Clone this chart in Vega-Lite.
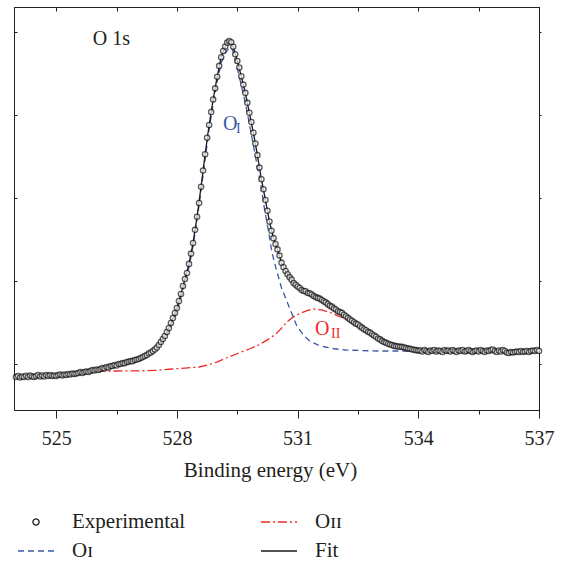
{
  "$schema": "https://vega.github.io/schema/vega-lite/v6.json",
  "width": 525,
  "height": 403,
  "autosize": "none",
  "padding": {"left": 14, "top": 7, "right": 26, "bottom": 153},
  "background": "white",
  "config": {
    "view": {"stroke": "#231f20", "strokeWidth": 1},
    "font": "Liberation Serif, serif",
    "axis": {
      "domainColor": "#231f20", "tickColor": "#231f20", "labelColor": "#231f20", "titleColor": "#231f20",
      "grid": false, "labelFont": "Liberation Serif, serif", "titleFont": "Liberation Serif, serif",
      "labelFontSize": 20, "titleFontSize": 21, "titleFontWeight": "normal",
      "domainWidth": 1, "tickWidth": 1, "labelFlush": false, "labelOverlap": false
    },
    "legend": {"labelFont": "Liberation Serif, serif"}
  },
  "resolve": {"axis": {"x": "independent", "y": "independent"}},
  "datasets": {
    "exp": [
      {"E":524.00,"I":0.398},{"E":524.05,"I":0.410},{"E":524.10,"I":0.392},{"E":524.15,"I":0.404},{"E":524.20,"I":0.398},
      {"E":524.25,"I":0.412},{"E":524.30,"I":0.398},{"E":524.35,"I":0.416},{"E":524.40,"I":0.404},{"E":524.45,"I":0.398},
      {"E":524.50,"I":0.410},{"E":524.55,"I":0.422},{"E":524.60,"I":0.404},{"E":524.65,"I":0.416},{"E":524.70,"I":0.404},
      {"E":524.75,"I":0.422},{"E":524.80,"I":0.410},{"E":524.85,"I":0.422},{"E":524.90,"I":0.410},{"E":524.95,"I":0.416},
      {"E":525.00,"I":0.410},{"E":525.05,"I":0.422},{"E":525.10,"I":0.428},{"E":525.15,"I":0.416},{"E":525.20,"I":0.428},
      {"E":525.25,"I":0.422},{"E":525.30,"I":0.434},{"E":525.35,"I":0.428},{"E":525.40,"I":0.440},{"E":525.45,"I":0.434},
      {"E":525.50,"I":0.440},{"E":525.55,"I":0.446},{"E":525.60,"I":0.458},{"E":525.65,"I":0.446},{"E":525.70,"I":0.458},
      {"E":525.75,"I":0.464},{"E":525.80,"I":0.458},{"E":525.85,"I":0.470},{"E":525.90,"I":0.482},{"E":525.95,"I":0.476},
      {"E":526.00,"I":0.488},{"E":526.05,"I":0.482},{"E":526.10,"I":0.494},{"E":526.15,"I":0.506},{"E":526.20,"I":0.500},
      {"E":526.25,"I":0.518},{"E":526.30,"I":0.512},{"E":526.35,"I":0.530},{"E":526.40,"I":0.530},{"E":526.45,"I":0.542},
      {"E":526.50,"I":0.536},{"E":526.55,"I":0.554},{"E":526.60,"I":0.554},{"E":526.65,"I":0.566},{"E":526.70,"I":0.562},
      {"E":526.75,"I":0.578},{"E":526.80,"I":0.580},{"E":526.85,"I":0.590},{"E":526.90,"I":0.588},{"E":526.95,"I":0.602},
      {"E":527.00,"I":0.608},{"E":527.05,"I":0.614},{"E":527.10,"I":0.627},{"E":527.15,"I":0.639},{"E":527.20,"I":0.651},
      {"E":527.25,"I":0.663},{"E":527.30,"I":0.681},{"E":527.35,"I":0.693},{"E":527.40,"I":0.711},{"E":527.45,"I":0.729},
      {"E":527.50,"I":0.753},{"E":527.55,"I":0.783},{"E":527.60,"I":0.819},{"E":527.65,"I":0.855},{"E":527.70,"I":0.892},
      {"E":527.75,"I":0.940},{"E":527.80,"I":0.988},{"E":527.85,"I":1.048},{"E":527.90,"I":1.108},{"E":527.95,"I":1.169},
      {"E":528.00,"I":1.229},{"E":528.05,"I":1.313},{"E":528.10,"I":1.398},{"E":528.15,"I":1.494},{"E":528.20,"I":1.578},
      {"E":528.25,"I":1.651},{"E":528.30,"I":1.760},{"E":528.35,"I":1.884},{"E":528.40,"I":2.012},{"E":528.45,"I":2.170},
      {"E":528.50,"I":2.328},{"E":528.55,"I":2.494},{"E":528.60,"I":2.690},{"E":528.65,"I":2.885},{"E":528.70,"I":3.080},
      {"E":528.75,"I":3.280},{"E":528.80,"I":3.434},{"E":528.85,"I":3.590},{"E":528.90,"I":3.740},{"E":528.95,"I":3.875},
      {"E":529.00,"I":4.015},{"E":529.05,"I":4.145},{"E":529.10,"I":4.250},{"E":529.15,"I":4.325},{"E":529.20,"I":4.378},
      {"E":529.25,"I":4.425},{"E":529.30,"I":4.444},{"E":529.35,"I":4.430},{"E":529.40,"I":4.375},{"E":529.45,"I":4.285},
      {"E":529.50,"I":4.205},{"E":529.55,"I":4.125},{"E":529.60,"I":4.020},{"E":529.65,"I":3.920},{"E":529.70,"I":3.820},
      {"E":529.75,"I":3.700},{"E":529.80,"I":3.580},{"E":529.85,"I":3.470},{"E":529.90,"I":3.340},{"E":529.95,"I":3.210},
      {"E":530.00,"I":3.070},{"E":530.05,"I":2.920},{"E":530.10,"I":2.780},{"E":530.15,"I":2.660},{"E":530.20,"I":2.530},
      {"E":530.25,"I":2.400},{"E":530.30,"I":2.270},{"E":530.35,"I":2.160},{"E":530.40,"I":2.070},{"E":530.45,"I":2.000},
      {"E":530.50,"I":1.935},{"E":530.55,"I":1.860},{"E":530.60,"I":1.775},{"E":530.65,"I":1.720},{"E":530.70,"I":1.675},
      {"E":530.75,"I":1.635},{"E":530.80,"I":1.600},{"E":530.85,"I":1.570},{"E":530.90,"I":1.530},{"E":530.95,"I":1.508},
      {"E":531.00,"I":1.488},{"E":531.05,"I":1.470},{"E":531.10,"I":1.446},{"E":531.15,"I":1.434},{"E":531.20,"I":1.430},
      {"E":531.25,"I":1.410},{"E":531.30,"I":1.405},{"E":531.35,"I":1.392},{"E":531.40,"I":1.374},{"E":531.45,"I":1.360},
      {"E":531.50,"I":1.350},{"E":531.55,"I":1.342},{"E":531.60,"I":1.325},{"E":531.65,"I":1.310},{"E":531.70,"I":1.296},
      {"E":531.75,"I":1.275},{"E":531.80,"I":1.255},{"E":531.85,"I":1.245},{"E":531.90,"I":1.224},{"E":531.95,"I":1.210},
      {"E":532.00,"I":1.190},{"E":532.05,"I":1.180},{"E":532.10,"I":1.170},{"E":532.15,"I":1.148},{"E":532.20,"I":1.130},
      {"E":532.25,"I":1.110},{"E":532.30,"I":1.090},{"E":532.35,"I":1.075},{"E":532.40,"I":1.057},{"E":532.45,"I":1.040},
      {"E":532.50,"I":1.030},{"E":532.55,"I":1.008},{"E":532.60,"I":0.992},{"E":532.65,"I":0.972},{"E":532.70,"I":0.960},
      {"E":532.75,"I":0.943},{"E":532.80,"I":0.932},{"E":532.85,"I":0.913},{"E":532.90,"I":0.898},{"E":532.95,"I":0.883},
      {"E":533.00,"I":0.862},{"E":533.05,"I":0.850},{"E":533.10,"I":0.832},{"E":533.15,"I":0.818},{"E":533.20,"I":0.810},
      {"E":533.25,"I":0.797},{"E":533.30,"I":0.789},{"E":533.35,"I":0.782},{"E":533.40,"I":0.772},{"E":533.45,"I":0.769},
      {"E":533.50,"I":0.765},{"E":533.55,"I":0.761},{"E":533.60,"I":0.760},{"E":533.65,"I":0.752},{"E":533.70,"I":0.746},
      {"E":533.75,"I":0.739},{"E":533.80,"I":0.738},{"E":533.85,"I":0.729},{"E":533.90,"I":0.725},{"E":533.95,"I":0.721},
      {"E":534.00,"I":0.716},{"E":534.05,"I":0.717},{"E":534.10,"I":0.705},{"E":534.15,"I":0.723},{"E":534.20,"I":0.711},
      {"E":534.25,"I":0.699},{"E":534.30,"I":0.717},{"E":534.35,"I":0.711},{"E":534.40,"I":0.723},{"E":534.45,"I":0.705},
      {"E":534.50,"I":0.717},{"E":534.55,"I":0.711},{"E":534.60,"I":0.699},{"E":534.65,"I":0.723},{"E":534.70,"I":0.711},
      {"E":534.75,"I":0.717},{"E":534.80,"I":0.705},{"E":534.85,"I":0.723},{"E":534.90,"I":0.711},{"E":534.95,"I":0.699},
      {"E":535.00,"I":0.717},{"E":535.05,"I":0.711},{"E":535.10,"I":0.723},{"E":535.15,"I":0.705},{"E":535.20,"I":0.711},
      {"E":535.25,"I":0.723},{"E":535.30,"I":0.711},{"E":535.35,"I":0.699},{"E":535.40,"I":0.711},{"E":535.45,"I":0.717},
      {"E":535.50,"I":0.705},{"E":535.55,"I":0.723},{"E":535.60,"I":0.711},{"E":535.65,"I":0.699},{"E":535.70,"I":0.717},
      {"E":535.75,"I":0.711},{"E":535.80,"I":0.723},{"E":535.85,"I":0.729},{"E":535.90,"I":0.711},{"E":535.95,"I":0.699},
      {"E":536.00,"I":0.717},{"E":536.05,"I":0.705},{"E":536.10,"I":0.723},{"E":536.15,"I":0.711},{"E":536.20,"I":0.693},
      {"E":536.25,"I":0.687},{"E":536.30,"I":0.699},{"E":536.35,"I":0.693},{"E":536.40,"I":0.699},{"E":536.45,"I":0.705},
      {"E":536.50,"I":0.699},{"E":536.55,"I":0.711},{"E":536.60,"I":0.699},{"E":536.65,"I":0.705},{"E":536.70,"I":0.711},
      {"E":536.75,"I":0.699},{"E":536.80,"I":0.711},{"E":536.85,"I":0.717},{"E":536.90,"I":0.711},{"E":536.95,"I":0.723},
      {"E":537.00,"I":0.711}
    ],
    "comp": [
      {"s":"O_II","E":526.0,"I":0.470},{"s":"O_II","E":526.5,"I":0.470},{"s":"O_II","E":527.0,"I":0.471},{"s":"O_II","E":527.5,"I":0.478},
      {"s":"O_II","E":527.88,"I":0.494},{"s":"O_II","E":528.2,"I":0.505},{"s":"O_II","E":528.55,"I":0.518},{"s":"O_II","E":528.8,"I":0.545},
      {"s":"O_II","E":528.99,"I":0.578},{"s":"O_II","E":529.2,"I":0.620},{"s":"O_II","E":529.54,"I":0.687},{"s":"O_II","E":529.8,"I":0.735},
      {"s":"O_II","E":530.03,"I":0.783},{"s":"O_II","E":530.25,"I":0.845},{"s":"O_II","E":530.46,"I":0.916},{"s":"O_II","E":530.6,"I":0.985},
      {"s":"O_II","E":530.73,"I":1.060},{"s":"O_II","E":530.9,"I":1.125},{"s":"O_II","E":531.08,"I":1.169},{"s":"O_II","E":531.25,"I":1.200},
      {"s":"O_II","E":531.4,"I":1.217},{"s":"O_II","E":531.6,"I":1.205},{"s":"O_II","E":531.84,"I":1.169},{"s":"O_II","E":532.0,"I":1.135},
      {"s":"O_II","E":532.19,"I":1.094},{"s":"O_II","E":532.35,"I":1.050},{"s":"O_II","E":532.5,"I":1.005},{"s":"O_II","E":532.65,"I":0.962},
      {"s":"O_II","E":532.84,"I":0.905},{"s":"O_II","E":533.0,"I":0.858},{"s":"O_II","E":533.2,"I":0.805},{"s":"O_II","E":533.4,"I":0.772},
      {"s":"O_II","E":533.6,"I":0.750},{"s":"O_II","E":533.8,"I":0.730},{"s":"O_II","E":534.0,"I":0.716},{"s":"O_II","E":534.2,"I":0.711},
      {"s":"O_II","E":534.42,"I":0.711},
      {"s":"O_I","E":526.0,"I":0.485},{"s":"O_I","E":526.2,"I":0.500},{"s":"O_I","E":526.4,"I":0.524},{"s":"O_I","E":526.6,"I":0.546},
      {"s":"O_I","E":526.8,"I":0.568},{"s":"O_I","E":527.0,"I":0.594},{"s":"O_I","E":527.2,"I":0.636},{"s":"O_I","E":527.4,"I":0.694},
      {"s":"O_I","E":527.6,"I":0.799},{"s":"O_I","E":527.8,"I":0.962},{"s":"O_I","E":528.0,"I":1.195},{"s":"O_I","E":528.1,"I":1.360},
      {"s":"O_I","E":528.2,"I":1.540},{"s":"O_I","E":528.3,"I":1.720},{"s":"O_I","E":528.4,"I":1.970},{"s":"O_I","E":528.5,"I":2.290},
      {"s":"O_I","E":528.6,"I":2.640},{"s":"O_I","E":528.7,"I":3.020},{"s":"O_I","E":528.8,"I":3.380},{"s":"O_I","E":528.9,"I":3.680},
      {"s":"O_I","E":529.0,"I":3.950},{"s":"O_I","E":529.1,"I":4.180},{"s":"O_I","E":529.2,"I":4.300},{"s":"O_I","E":529.3,"I":4.360},
      {"s":"O_I","E":529.35,"I":4.365},{"s":"O_I","E":529.4,"I":4.320},{"s":"O_I","E":529.5,"I":4.120},{"s":"O_I","E":529.6,"I":3.910},
      {"s":"O_I","E":529.7,"I":3.700},{"s":"O_I","E":529.8,"I":3.450},{"s":"O_I","E":529.9,"I":3.190},{"s":"O_I","E":530.0,"I":2.930},
      {"s":"O_I","E":530.08,"I":2.735},{"s":"O_I","E":530.18,"I":2.410},{"s":"O_I","E":530.28,"I":2.145},{"s":"O_I","E":530.36,"I":1.904},
      {"s":"O_I","E":530.46,"I":1.711},{"s":"O_I","E":530.6,"I":1.470},{"s":"O_I","E":530.78,"I":1.253},{"s":"O_I","E":530.98,"I":1.012},
      {"s":"O_I","E":531.15,"I":0.900},{"s":"O_I","E":531.3,"I":0.831},{"s":"O_I","E":531.5,"I":0.785},{"s":"O_I","E":531.69,"I":0.759},
      {"s":"O_I","E":531.9,"I":0.738},{"s":"O_I","E":532.19,"I":0.723},{"s":"O_I","E":532.6,"I":0.716},{"s":"O_I","E":533.0,"I":0.711},
      {"s":"O_I","E":533.8,"I":0.711},{"s":"O_I","E":534.42,"I":0.711},
      {"s":"Fit","E":526.0,"I":0.486},{"s":"Fit","E":526.1,"I":0.494},{"s":"Fit","E":526.2,"I":0.503},{"s":"Fit","E":526.3,"I":0.514},
      {"s":"Fit","E":526.4,"I":0.527},{"s":"Fit","E":526.5,"I":0.540},{"s":"Fit","E":526.6,"I":0.553},{"s":"Fit","E":526.7,"I":0.566},
      {"s":"Fit","E":526.8,"I":0.579},{"s":"Fit","E":526.9,"I":0.592},{"s":"Fit","E":527.0,"I":0.607},{"s":"Fit","E":527.1,"I":0.627},
      {"s":"Fit","E":527.2,"I":0.651},{"s":"Fit","E":527.3,"I":0.681},{"s":"Fit","E":527.4,"I":0.711},{"s":"Fit","E":527.5,"I":0.753},
      {"s":"Fit","E":527.6,"I":0.819},{"s":"Fit","E":527.7,"I":0.892},{"s":"Fit","E":527.8,"I":0.988},{"s":"Fit","E":527.9,"I":1.108},
      {"s":"Fit","E":528.0,"I":1.229},{"s":"Fit","E":528.1,"I":1.398},{"s":"Fit","E":528.2,"I":1.578},{"s":"Fit","E":528.3,"I":1.760},
      {"s":"Fit","E":528.4,"I":2.012},{"s":"Fit","E":528.5,"I":2.328},{"s":"Fit","E":528.6,"I":2.690},{"s":"Fit","E":528.7,"I":3.080},
      {"s":"Fit","E":528.8,"I":3.434},{"s":"Fit","E":528.9,"I":3.740},{"s":"Fit","E":529.0,"I":4.015},{"s":"Fit","E":529.1,"I":4.250},
      {"s":"Fit","E":529.2,"I":4.378},{"s":"Fit","E":529.25,"I":4.425},{"s":"Fit","E":529.3,"I":4.444},{"s":"Fit","E":529.35,"I":4.430},
      {"s":"Fit","E":529.4,"I":4.375},{"s":"Fit","E":529.5,"I":4.205},{"s":"Fit","E":529.6,"I":4.020},{"s":"Fit","E":529.7,"I":3.820},
      {"s":"Fit","E":529.8,"I":3.580},{"s":"Fit","E":529.9,"I":3.340},{"s":"Fit","E":530.0,"I":3.070},{"s":"Fit","E":530.1,"I":2.780},
      {"s":"Fit","E":530.2,"I":2.530},{"s":"Fit","E":530.3,"I":2.270},{"s":"Fit","E":530.4,"I":2.070},{"s":"Fit","E":530.5,"I":1.935},
      {"s":"Fit","E":530.6,"I":1.775},{"s":"Fit","E":530.7,"I":1.675},{"s":"Fit","E":530.8,"I":1.600},{"s":"Fit","E":530.9,"I":1.530},
      {"s":"Fit","E":531.0,"I":1.488},{"s":"Fit","E":531.1,"I":1.446},{"s":"Fit","E":531.2,"I":1.422},{"s":"Fit","E":531.3,"I":1.398},
      {"s":"Fit","E":531.4,"I":1.374},{"s":"Fit","E":531.5,"I":1.350},{"s":"Fit","E":531.6,"I":1.325},{"s":"Fit","E":531.7,"I":1.293},
      {"s":"Fit","E":531.8,"I":1.255},{"s":"Fit","E":531.9,"I":1.224},{"s":"Fit","E":532.0,"I":1.194},{"s":"Fit","E":532.1,"I":1.165},
      {"s":"Fit","E":532.2,"I":1.130},{"s":"Fit","E":532.3,"I":1.093},{"s":"Fit","E":532.4,"I":1.057},{"s":"Fit","E":532.5,"I":1.024},
      {"s":"Fit","E":532.6,"I":0.992},{"s":"Fit","E":532.7,"I":0.960},{"s":"Fit","E":532.8,"I":0.928},{"s":"Fit","E":532.9,"I":0.898},
      {"s":"Fit","E":533.0,"I":0.866},{"s":"Fit","E":533.1,"I":0.832},{"s":"Fit","E":533.2,"I":0.806},{"s":"Fit","E":533.3,"I":0.789},
      {"s":"Fit","E":533.4,"I":0.775},{"s":"Fit","E":533.5,"I":0.765},{"s":"Fit","E":533.6,"I":0.757},{"s":"Fit","E":533.7,"I":0.746},
      {"s":"Fit","E":533.8,"I":0.734},{"s":"Fit","E":533.9,"I":0.725},{"s":"Fit","E":534.0,"I":0.716},{"s":"Fit","E":534.2,"I":0.711},
      {"s":"Fit","E":534.4,"I":0.711}
    ]
  },
  "layer": [
    {
      "data": {"name": "comp"},
      "mark": {"type": "line", "strokeWidth": 1.3},
      "encoding": {
        "x": {"field": "E", "type": "quantitative", "scale": {"domain": [523.95, 537], "nice": false, "zero": false},
          "axis": {"orient": "bottom", "values": [525, 528, 531, 534, 537], "tickSize": 8, "labelPadding": 10, "format": "d",
            "labelFont": "Liberation Serif, serif", "titleFont": "Liberation Serif, serif",
            "title": "Binding energy (eV)", "titlePadding": 11, "titleX": 256}},
        "y": {"field": "I", "type": "quantitative", "scale": {"domain": [0, 4.855], "nice": false, "zero": false},
          "axis": {"orient": "left", "values": [0.55, 1.55, 2.55, 3.55, 4.55], "tickSize": -3, "labels": false, "title": null}},
        "stroke": {"field": "s", "type": "nominal",
          "scale": {"domain": ["Experimental", "O_I", "O_II", "Fit"], "range": ["#1a1a1a", "#3b5ba8", "#ee2b2b", "#1a1a1a"]},
          "legend": {
            "orient": "none", "legendX": 3, "legendY": 496, "columns": 2, "title": null, "padding": 0,
            "labelFont": "Liberation Serif, serif", "labelFontSize": 21, "labelColor": "#231f20",
            "symbolSize": 1296, "symbolStrokeWidth": 1.3, "labelOffset": 17, "columnPadding": 72, "rowPadding": -8,
            "labelExpr": "datum.value === 'O_I' ? 'O\u026a' : datum.value === 'O_II' ? 'O\u026a\u026a' : datum.value",
            "encode": {
              "symbols": {
                "update": {
                  "shape": {"signal": "datum.value === 'Experimental' ? 'M-0.17,0A0.17,0.17 0 1,1 0.17,0A0.17,0.17 0 1,1 -0.17,0Z' : 'stroke'"},
                  "strokeDash": {"signal": "datum.value === 'O_I' ? [6,4] : datum.value === 'O_II' ? [9,3,2,3] : [1,0]"},
                  "fill": {"value": "white"}
                }
              }
            }
          }
        },
        "strokeDash": {"field": "s", "type": "nominal",
          "scale": {"domain": ["Experimental", "O_I", "O_II", "Fit"], "range": [[1, 0], [6, 4], [9, 3, 2, 3], [1, 0]]},
          "legend": null}
      }
    },
    {
      "data": {"name": "exp"},
      "mark": {"type": "point", "shape": "circle", "filled": true, "fill": "white", "size": 28, "strokeWidth": 1.35},
      "encoding": {
        "x": {"field": "E", "type": "quantitative", "scale": {"domain": [523.95, 537], "nice": false, "zero": false},
          "axis": {"orient": "bottom", "values": [526.5, 529.5, 532.5, 535.5], "tickSize": 4, "labels": false, "domain": false, "title": null}},
        "y": {"field": "I", "type": "quantitative", "scale": {"domain": [0, 4.855], "nice": false, "zero": false},
          "axis": {"orient": "right", "values": [0.55, 1.55, 2.55, 3.55, 4.55], "tickSize": 2, "labels": false, "title": null}},
        "stroke": {"datum": "Experimental", "type": "nominal",
          "scale": {"domain": ["Experimental", "O_I", "O_II", "Fit"], "range": ["#1a1a1a", "#3b5ba8", "#ee2b2b", "#1a1a1a"]}}
      }
    },
    {
      "data": {"values": [{"E": 525.91, "I": 4.398, "t": "O 1s"}]},
      "mark": {"type": "text", "align": "left", "baseline": "alphabetic", "fontSize": 20, "font": "Liberation Serif, serif", "color": "#231f20"},
      "encoding": {
        "x": {"field": "E", "type": "quantitative", "scale": {"domain": [523.95, 537], "nice": false, "zero": false},
          "axis": {"orient": "top", "values": [525, 526.5, 528, 529.5, 531, 532.5, 534, 535.5, 537], "tickSize": -4, "labels": false, "title": null}},
        "y": {"field": "I", "type": "quantitative", "scale": {"domain": [0, 4.855], "nice": false, "zero": false}, "axis": null},
        "text": {"field": "t"}
      }
    },
    {
      "data": {"values": [{"E": 529.145, "I": 3.373, "t": "O"}]},
      "mark": {"type": "text", "align": "left", "baseline": "alphabetic", "fontSize": 20, "font": "Liberation Serif, serif", "color": "#3b5ba8"},
      "encoding": {
        "x": {"field": "E", "type": "quantitative", "scale": {"domain": [523.95, 537], "nice": false, "zero": false}, "axis": null},
        "y": {"field": "I", "type": "quantitative", "scale": {"domain": [0, 4.855], "nice": false, "zero": false}, "axis": null},
        "text": {"field": "t"}
      }
    },
    {
      "data": {"values": [{"E": 529.47, "I": 3.337, "t": "I"}]},
      "mark": {"type": "text", "align": "left", "baseline": "alphabetic", "fontSize": 14, "font": "Liberation Serif, serif", "color": "#3b5ba8"},
      "encoding": {
        "x": {"field": "E", "type": "quantitative", "scale": {"domain": [523.95, 537], "nice": false, "zero": false}, "axis": null},
        "y": {"field": "I", "type": "quantitative", "scale": {"domain": [0, 4.855], "nice": false, "zero": false}, "axis": null},
        "text": {"field": "t"}
      }
    },
    {
      "data": {"values": [{"E": 531.43, "I": 0.904, "t": "O"}]},
      "mark": {"type": "text", "align": "left", "baseline": "alphabetic", "fontSize": 20, "font": "Liberation Serif, serif", "color": "#ee2b2b"},
      "encoding": {
        "x": {"field": "E", "type": "quantitative", "scale": {"domain": [523.95, 537], "nice": false, "zero": false}, "axis": null},
        "y": {"field": "I", "type": "quantitative", "scale": {"domain": [0, 4.855], "nice": false, "zero": false}, "axis": null},
        "text": {"field": "t"}
      }
    },
    {
      "data": {"values": [{"E": 531.83, "I": 0.867, "t": "II"}]},
      "mark": {"type": "text", "align": "left", "baseline": "alphabetic", "fontSize": 14, "font": "Liberation Serif, serif", "color": "#ee2b2b"},
      "encoding": {
        "x": {"field": "E", "type": "quantitative", "scale": {"domain": [523.95, 537], "nice": false, "zero": false}, "axis": null},
        "y": {"field": "I", "type": "quantitative", "scale": {"domain": [0, 4.855], "nice": false, "zero": false}, "axis": null},
        "text": {"field": "t"}
      }
    }
  ]
}
